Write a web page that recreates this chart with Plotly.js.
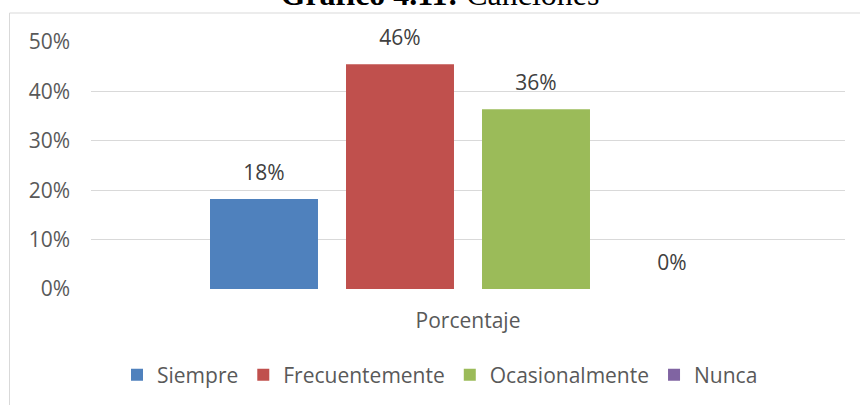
<!DOCTYPE html>
<html>
<head>
<meta charset="utf-8">
<script src="https://cdn.plot.ly/plotly-3.0.1.min.js"></script>
<style>
  html, body { margin: 0; padding: 0; background: #fff; }
  #chart { width: 860px; height: 405px; }
</style>
</head>
<body>
<div id="chart"></div>
<script>
// ---- data ----
const categories = ["Porcentaje"];
const seriesNames = ["Siempre", "Frecuentemente", "Ocasionalmente", "Nunca"];
const siempre = [0.182];
const frecuentemente = [0.455];
const ocasionalmente = [0.364];
const nunca = [0.0];
const seriesValues = [siempre, frecuentemente, ocasionalmente, nunca];
const yTickVals = [0, 0.1, 0.2, 0.3, 0.4, 0.5];
const yTickText = ["0%", "10%", "20%", "30%", "40%", "50%"];
const titleText = "<b>Gráfico 4.11:</b> Canciones";

// ---- style ----
const colors = ["#4F81BD", "#C0504D", "#9BBB59", "#8064A2"];
const W = 860, H = 405;
const M = { l: 91, r: 15, t: 42, b: 116 };
const plotW = W - M.l - M.r, plotH = H - M.t - M.b;
const px2paperX = p => (p - M.l) / plotW;
const px2paperY = p => (H - M.b - p) / plotH;
const fontFam = "'Open Sans', 'Noto Sans', sans-serif";
const FS = 21;

const traces = seriesNames.map((name, i) => ({
  type: "bar",
  name: name,
  x: categories,
  y: seriesValues[i],
  marker: { color: colors[i] },
  texttemplate: '<span style="font-size:' + FS + 'px">%{y:.0%}</span><br>\u00a0',
  textposition: "outside",
  textfont: { family: fontFam, size: 10, color: "#404040" },
  cliponaxis: false,
  hoverinfo: "skip"
}));

const layout = {
  width: W, height: H,
  margin: M,
  paper_bgcolor: "#fff",
  plot_bgcolor: "#fff",
  font: { family: fontFam, size: FS, color: "#595959" },
  barmode: "group",
  bargap: 0.2785,
  bargroupgap: 0.206,
  showlegend: true,
  title: {
    text: titleText,
    font: { family: "'Liberation Serif', 'Times New Roman', serif", size: 32, color: "#000" },
    xref: "container", x: 440 / W, xanchor: "center",
    yref: "container", y: 1 - 5 / H, yanchor: "bottom"
  },
  xaxis: {
    type: "category",
    showgrid: false, zeroline: false, showline: false,
    ticks: "", ticklabelstandoff: 17,
    tickfont: { size: FS, color: "#595959" },
    fixedrange: true
  },
  yaxis: {
    range: [0, 0.5],
    tickvals: yTickVals, ticktext: yTickText,
    showgrid: true, gridcolor: "#D9D9D9", gridwidth: 1,
    zeroline: false, showline: false,
    ticks: "", ticklabelstandoff: 20,
    tickfont: { size: FS, color: "#595959" },
    fixedrange: true
  },
  legend: {
    orientation: "h",
    xref: "container", x: 440 / W, xanchor: "center",
    yref: "container", y: 1 - 375 / H, yanchor: "middle",
    font: { size: FS, color: "#595959" },
    bgcolor: "rgba(0,0,0,0)",
    itemclick: false, itemdoubleclick: false
  },
  shapes: [{
    type: "rect", xref: "paper", yref: "paper", layer: "below",
    x0: px2paperX(9.5), x1: px2paperX(W + 20),
    y0: px2paperY(H + 20), y1: px2paperY(13),
    line: { color: "#D9D9D9", width: 1 },
    fillcolor: "rgba(0,0,0,0)"
  }]
};

Plotly.newPlot("chart", traces, layout, { displayModeBar: false, staticPlot: true });
</script>
</body>
</html>
